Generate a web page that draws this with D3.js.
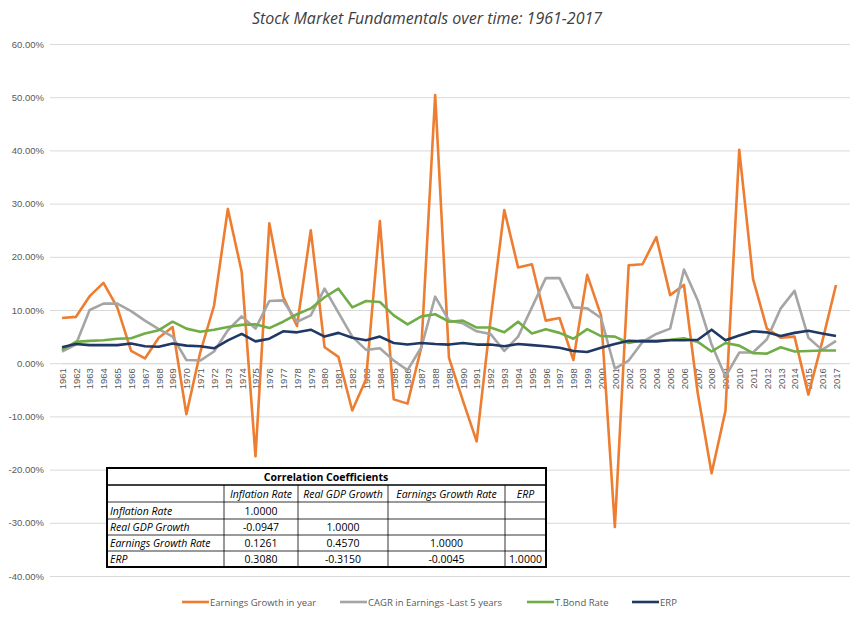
<!DOCTYPE html>
<html><head><meta charset="utf-8">
<script src="https://cdn.jsdelivr.net/npm/d3@7"></script>
<style>body{margin:0;background:#fff;font-family:"Open Sans","Noto Sans",sans-serif}</style>
</head><body><svg id="c" width="865" height="626"></svg>
<script>
const years = d3.range(1961, 2018);
const earnings = [8.5,8.7,12.6,15.1,10.5,2.3,0.9,4.8,6.8,-9.6,2,10.8,29,17.2,-17.5,26.3,12.5,7,25,3,1.2,-8.9,-3,26.7,-6.8,-7.6,3,50.4,1,-7,-14.7,8,28.8,18,18.6,8,8.5,0.6,16.6,9,-30.8,18.4,18.6,23.7,12.8,14.7,-5.7,-20.7,-9,40.1,15.8,6.5,4.8,5,-5.9,4,14.7];
const cagr = [2.2,3.5,10,11.2,11.2,9.8,8,6.4,5,0.6,0.5,2.2,6.2,8.8,6.5,11.7,11.8,7.8,9,14,9.5,5,2.5,2.8,0.5,-1.3,3,12.5,8,7.5,6,5.5,2.3,5,10.5,16,16,10.5,10.3,8.5,-1,0.5,4,5.5,6.5,17.6,11.8,3.5,-2.5,2,2,4.5,10.3,13.6,4.8,2.5,4.2];
const tbond = [2.5,4,4.2,4.3,4.6,4.7,5.6,6.2,7.8,6.5,5.9,6.3,6.8,7.2,7.3,6.6,7.8,9.2,10.3,12.4,14,10.5,11.7,11.5,9,7.3,8.8,9.2,7.8,8,6.7,6.7,5.8,7.8,5.6,6.4,5.7,4.6,6.4,5.1,5,3.8,4.3,4.2,4.4,4.7,4,2.2,3.8,3.3,1.9,1.8,3,2.2,2.3,2.4,2.4];
const erp = [3,3.6,3.4,3.4,3.4,3.7,3.2,3.1,3.7,3.3,3.2,2.8,4.3,5.5,4.1,4.6,6,5.8,6.3,5,5.7,4.8,4.3,5,3.8,3.5,3.8,3.6,3.5,3.8,3.5,3.5,3.2,3.6,3.4,3.2,2.9,2.3,2.1,2.9,3.6,4.2,4.1,4.1,4.3,4.3,4.4,6.3,4.3,5.2,6,5.8,5.1,5.7,6.1,5.6,5.1];
const yTicks = [-40,-30,-20,-10,0,10,20,30,40,50,60];
const seriesNames = ["Earnings Growth in year","CAGR in Earnings -Last 5 years","T.Bond Rate","ERP"];
const seriesColors = ["#ED7D31","#A5A5A5","#70AD47","#203864"];
const tableCols = ["Inflation Rate","Real GDP Growth","Earnings Growth Rate","ERP"];
const tableRows = [["Inflation Rate","1.0000","","",""],["Real GDP Growth","-0.0947","1.0000","",""],["Earnings Growth Rate","0.1261","0.4570","1.0000",""],["ERP","0.3080","-0.3150","-0.0045","1.0000"]];

const svg = d3.select("#c");
const x = d3.scaleLinear().domain([1961,2017]).range([62,836]);
const y = d3.scaleLinear().domain([-40,60]).range([576,44]);

svg.append("text").attr("x",427).attr("y",24).attr("text-anchor","middle").attr("font-size",16).attr("font-style","italic").attr("fill","#404040").text("Stock Market Fundamentals over time: 1961-2017");

const ya = svg.append("g").attr("transform","translate(50,0)").call(d3.axisLeft(y).tickValues(yTicks).tickSize(-800).tickFormat(d=>d.toFixed(2)+"%"));
ya.select(".domain").remove();
ya.selectAll("line").attr("stroke","#D9D9D9");
ya.selectAll("text").attr("fill","#595959").attr("font-size",9.5).attr("x",-6);

const xa = svg.append("g").attr("transform",`translate(0,${y(0)})`).call(d3.axisBottom(x).tickValues(years).tickSize(0).tickFormat(d3.format("d")));
xa.select(".domain").attr("stroke","#D9D9D9");
xa.selectAll("text").attr("fill","#595959").attr("font-size",9.5).attr("transform","rotate(-90)").attr("text-anchor","end").attr("x",-5).attr("y",0).attr("dy","0.35em");

const line = d3.line().x((d,i)=>x(years[i])).y(d=>y(d));
[earnings,cagr,tbond,erp].forEach((s,k)=>{
  svg.append("path").datum(s).attr("d",line).attr("fill","none").attr("stroke",seriesColors[k]).attr("stroke-width",2.6).attr("stroke-linejoin","round");
});

const lx = [182,340,527,632];
seriesNames.forEach((n,k)=>{
  svg.append("line").attr("x1",lx[k]).attr("x2",lx[k]+27).attr("y1",602).attr("y2",602).attr("stroke",seriesColors[k]).attr("stroke-width",2.6);
  svg.append("text").attr("x",lx[k]+28).attr("y",605.5).attr("font-size",9.5).attr("fill","#595959").text(n);
});

const colX = [107,224,298,388,505,546];
const rowY = [468,485,502,519,535,551,567];
const t = svg.append("g");
t.append("rect").attr("x",107).attr("y",468).attr("width",439).attr("height",99).attr("fill","#fff").attr("stroke","#000").attr("stroke-width",2);
rowY.slice(1,-1).forEach(ry=>t.append("line").attr("x1",107).attr("x2",546).attr("y1",ry).attr("y2",ry).attr("stroke","#000").attr("stroke-width",ry===485?1.5:0.8));
colX.slice(1,-1).forEach(cx=>t.append("line").attr("x1",cx).attr("x2",cx).attr("y1",485).attr("y2",567).attr("stroke","#000").attr("stroke-width",0.8));
t.append("text").attr("x",326).attr("y",481).attr("text-anchor","middle").attr("font-size",10.5).attr("font-weight","bold").text("Correlation Coefficients");
tableCols.forEach((c,i)=>t.append("text").attr("x",(colX[i+1]+colX[i+2])/2).attr("y",498).attr("text-anchor","middle").attr("font-size",10.5).attr("font-style","italic").text(c));
tableRows.forEach((r,j)=>{
  const ry=(rowY[j+2]+rowY[j+3])/2+4;
  t.append("text").attr("x",110).attr("y",ry).attr("font-size",10.5).attr("font-style","italic").text(r[0]);
  r.slice(1).forEach((v,i)=>t.append("text").attr("x",(colX[i+1]+colX[i+2])/2).attr("y",ry).attr("text-anchor","middle").attr("font-size",10.5).text(v));
});
</script></body></html>
